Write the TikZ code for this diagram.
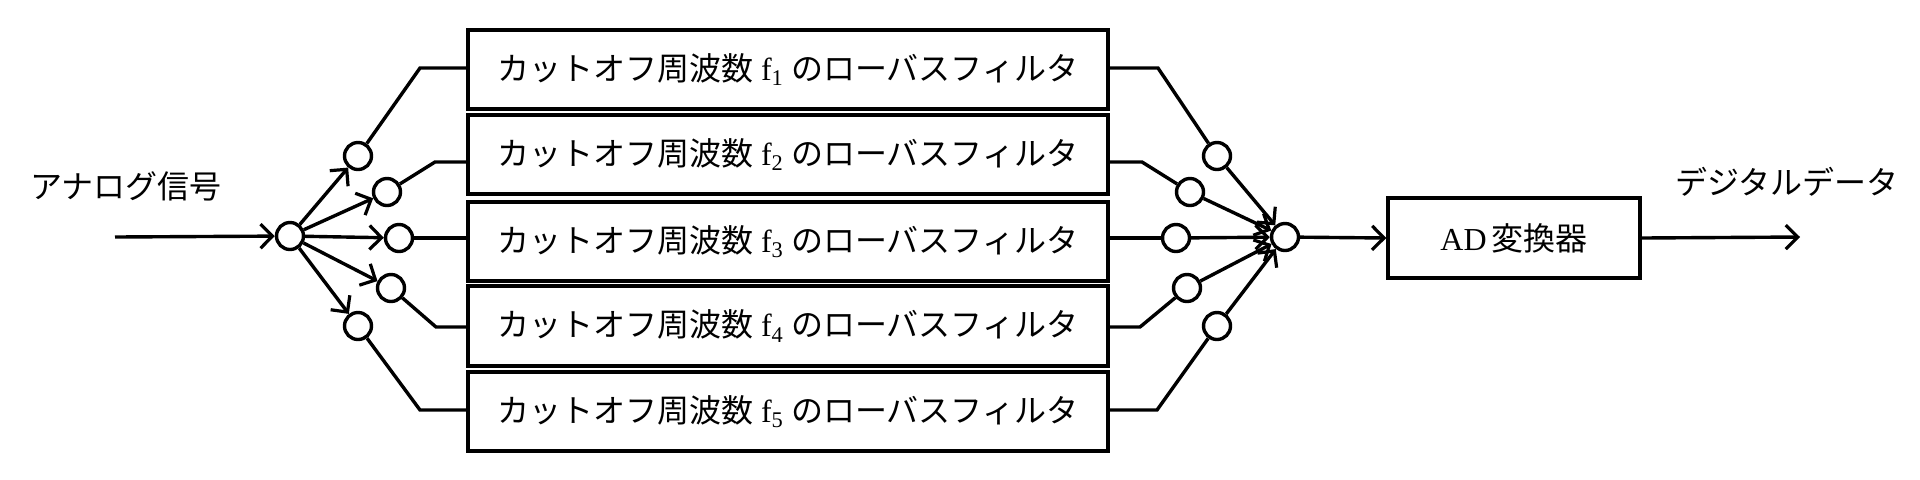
\documentclass[tikz,border=0pt]{standalone}
\usepackage{fontspec}
\setmainfont{Liberation Serif}
\newfontfamily\jp{Noto Sans CJK JP}
\usetikzlibrary{arrows.meta}
\begin{document}
\begin{tikzpicture}[x=0.5pt,y=-0.5pt,line width=1.7pt,
  dot/.style={circle,draw,fill=white,minimum size=13.5pt,inner sep=0pt},
  box/.style={draw,rectangle,inner sep=0pt},
  lbl/.style={font=\jp\fontsize{16}{17}\selectfont},
  arr/.style={-{Straight Barb[length=6pt,width=12pt,line width=1.6pt]}}]
\useasboundingbox (0,0) rectangle (1920,479);
% filter boxes
\foreach \i/\t/\b in {1/30/109,2/115/194,3/202/281,4/286/366,5/372/451}{
  \node[box,minimum width=320pt,minimum height={(\b-\t)*0.5pt}] (f\i) at (788,{(\t+\b)/2})
    {\jp\fontsize{16}{17}\selectfont カットオフ周波数 {\rmfamily f\textsubscript{\i}} のローバスフィルタ};
}
% input
\coordinate (in) at (115,237);
\node[dot] (s) at (290,236) {};
\node[lbl,anchor=west] (al) at (22,186) {アナログ信号};
\draw[arr] (in) -- (s);
% left circles
\node[dot] (l1) at (358,156) {};
\node[dot] (l2) at (387,192) {};
\node[dot] (l3) at (399,238) {};
\node[dot] (l4) at (391,288) {};
\node[dot] (l5) at (358,326) {};
\foreach \i in {1,...,5}{\draw[arr] (s) -- (l\i);}
\coordinate (a1) at (420,68);  \coordinate (a2) at (435,162);
\coordinate (a4) at (436,327); \coordinate (a5) at (420,410);
\draw (l1) -- (a1) -- (a1-|f1.west);
\draw (l2) -- (a2) -- (a2-|f2.west);
\draw (l3) -- (l3-|f3.west);
\draw (l4) -- (a4) -- (a4-|f4.west);
\draw (l5) -- (a5) -- (a5-|f5.west);
% right side
\node[dot] (m) at (1285,237) {};
\node[dot] (r1) at (1217,156) {};
\node[dot] (r2) at (1190,192) {};
\node[dot] (r3) at (1176,238) {};
\node[dot] (r4) at (1187,288) {};
\node[dot] (r5) at (1217,326) {};
\coordinate (b1) at (1158,68);  \coordinate (b2) at (1142,162);
\coordinate (b4) at (1140,327); \coordinate (b5) at (1157,410);
\draw (b1-|f1.east) -- (b1) -- (r1);
\draw (b2-|f2.east) -- (b2) -- (r2);
\draw (r3-|f3.east) -- (r3);
\draw (b4-|f4.east) -- (b4) -- (r4);
\draw (b5-|f5.east) -- (b5) -- (r5);
\foreach \i in {1,...,5}{\draw[arr] (r\i) -- (m);}
% AD converter
\node[box,minimum width=126pt,minimum height=40pt] (ad) at (1514,238)
  {{\rmfamily\fontsize{16}{17}\selectfont AD} {\jp\fontsize{16}{17}\selectfont 変換器}};
\draw[arr] (m) -- (ad.west);
\coordinate (out) at (1800,237);
\draw[arr] (ad.east) -- (out);
\node[lbl,anchor=west] (dl) at (1667,182) {デジタルデータ};
\end{tikzpicture}
\end{document}
